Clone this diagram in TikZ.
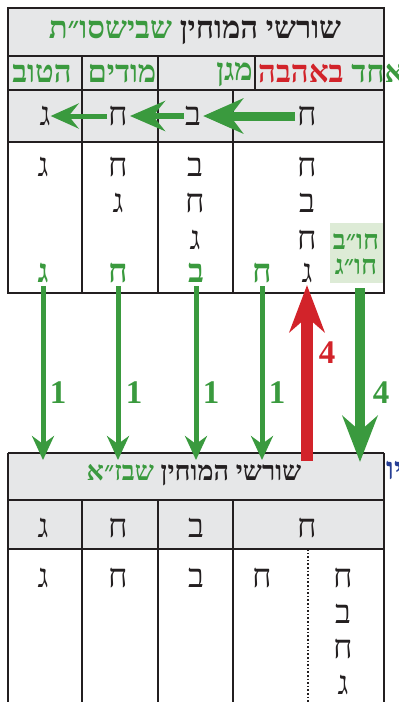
\documentclass[tikz,border=0pt]{standalone}
\usepackage{fontspec}
\setmainfont{Liberation Serif}
\newfontfamily\hebfont[Script=Hebrew]{Liberation Serif}
\TeXXeTstate=1
\usetikzlibrary{arrows.meta}

\definecolor{tgreen}{RGB}{58,154,62}
\definecolor{tred}{RGB}{210,35,42}
\definecolor{tgray}{RGB}{230,231,232}
\definecolor{tbox}{RGB}{221,235,214}
\definecolor{tline}{RGB}{35,31,32}
\definecolor{tblue}{RGB}{38,62,148}

%% one right-to-left run; colour changes stay outside of it
\newcommand{\rtltext}[1]{\beginR#1\endR}

\tikzset{
  tableline/.style={draw=tline, line width=2pt},
  letter/.style={font=\hebfont\fontsize{33}{36}\selectfont, inner sep=0pt, text=tline},
  greenletter/.style={letter, text=tgreen, font=\hebfont\bfseries\fontsize{33}{36}\selectfont},
  hubletter/.style={inner sep=0pt, text=tgreen, font=\hebfont\bfseries\fontsize{27}{30}\selectfont},
  titletext/.style={font=\hebfont\bfseries\fontsize{31}{34}\selectfont, inner sep=0pt, text=tline},
  word/.style={font=\hebfont\bfseries\fontsize{31}{34}\selectfont, inner sep=0pt},
  num/.style={font=\bfseries\fontsize{33}{38}\selectfont, inner sep=0pt},
  bigleft/.style={draw=tgreen, line width=9pt, -{Stealth[length=40pt,width=35pt,inset=13pt]}},
  midleft/.style={draw=tgreen, line width=6pt, -{Stealth[length=35pt,width=30pt,inset=12pt]}},
  smallleft/.style={draw=tgreen, line width=5pt, -{Stealth[length=28pt,width=25pt,inset=10pt]}},
  thindown/.style={draw=tgreen, line width=5pt, -{Stealth[length=24pt,width=22pt,inset=8pt]}},
  thickdown/.style={draw=tgreen, line width=10pt, -{Stealth[length=46pt,width=35pt,inset=15pt]}},
  thickup/.style={draw=tred, line width=12pt, -{Stealth[length=47pt,width=35pt,inset=15pt]}}
}

\begin{document}
\begin{tikzpicture}[x=1pt,y=-1pt]
  \useasboundingbox (0,0) rectangle (399,702);

  %% top table: fills and lines
  \fill[tgray] (8,8) rectangle (384,142);
  \fill[tbox] (330,223) rectangle (383,283);
  \draw[tableline] (8,8) rectangle (384,293);
  \draw[tableline] (8,56) -- (384,56);
  \draw[tableline] (8,90) -- (384,90);
  \draw[tableline] (8,142) -- (384,142);
  \foreach \x in {82,158,255} \draw[tableline] (\x,56) -- (\x,90);
  \foreach \x in {82,158,233} \draw[tableline] (\x,90) -- (\x,293);

  \node[titletext] (toptitle) at (195,32) {{\color{tgreen}\rtltext{שבישסו״ת}} \rtltext{שורשי המוחין}};
  \node[word, text=tgreen] (hatov) at (42,74) {\rtltext{הטוב}};
  \node[word, text=tgreen] (modim) at (122,74) {\rtltext{מודים}};
  \node[word, text=tgreen, anchor=east] (magen) at (253,74) {\rtltext{מגן}};
  \node[word, anchor=west] (ahava) at (258,74) {{\color{tred}\rtltext{באהבה}} {\color{tgreen}\rtltext{אחד}}};

  %% row of the passing letters
  \node[letter] (h3) at (307,116) {ח};
  \node[letter] (b3) at (193,116) {ב};
  \node[letter] (c3) at (118,116) {ח};
  \node[letter] (g3) at (45,116) {ג};
  \draw[bigleft] ([xshift=-2pt]h3.west) -- ([xshift=2pt]b3.east);
  \draw[midleft] ([xshift=-1pt]b3.west) -- ([xshift=2pt]c3.east);
  \draw[smallleft] ([xshift=-1pt]c3.west) -- ([xshift=0pt]g3.east);

  %% letters of each column
  \node[letter] (h41) at (307,167) {ח};
  \node[letter] (h42) at (307,203) {ב};
  \node[letter] (h43) at (307,240) {ח};
  \node[letter] (h44) at (307,273) {ג};
  \node[letter] (b41) at (195,167) {ב};
  \node[letter] (b42) at (195,203) {ח};
  \node[letter] (b43) at (195,240) {ג};
  \node[letter] (c41) at (118,167) {ח};
  \node[letter] (c42) at (118,203) {ג};
  \node[letter] (g41) at (43,167) {ג};
  \node[greenletter] (gg) at (43,273) {ג};
  \node[greenletter] (gc) at (118,273) {ח};
  \node[greenletter] (gb) at (196,273) {ב};
  \node[greenletter] (gh) at (262,273) {ח};
  \node[hubletter] (hubb) at (356,242) {\rtltext{חו״ב}};
  \node[hubletter] (hubg) at (356,267) {\rtltext{חו״ג}};

  %% bottom table
  \fill[tgray] (8,453) rectangle (384,549);
  \draw[tableline] (8,453) -- (384,453);
  \draw[tableline] (8,453) -- (8,712);
  \draw[tableline] (384,453) -- (384,712);
  \draw[tableline] (8,500) -- (384,500);
  \draw[tableline] (8,549) -- (384,549);
  \foreach \x in {82,158,233} \draw[tableline] (\x,500) -- (\x,712);
  \draw[tline, line width=1.6pt, dotted] (308,549) -- (308,712);

  \node[titletext, font=\hebfont\bfseries\fontsize{27}{30}\selectfont] (bottitle) at (194,475) {{\color{tgreen}\rtltext{שבז״א}} \rtltext{שורשי המוחין}};
  \node[word, text=tblue, anchor=west] (cut) at (386,470) {\rtltext{יו}};

  \node[letter] (bh) at (307,528) {ח};
  \node[letter] (bb) at (196,528) {ב};
  \node[letter] (bc) at (118,528) {ח};
  \node[letter] (bg) at (43,528) {ג};
  \node[letter] (lg) at (43,578) {ג};
  \node[letter] (lc) at (118,578) {ח};
  \node[letter] (lb) at (196,578) {ב};
  \node[letter] (lh) at (262,578) {ח};
  \node[letter] (r1) at (343,578) {ח};
  \node[letter] (r2) at (343,614) {ב};
  \node[letter] (r3) at (343,649) {ח};
  \node[letter] (r4) at (343,685) {ג};

  %% arrows between the tables
  \coordinate (e1) at (43,460);
  \coordinate (e2) at (118,460);
  \coordinate (e3) at (196,460);
  \coordinate (e4) at (262,460);
  \coordinate (e5) at (360,462);
  \coordinate (s5) at (360,288);
  \coordinate (s6) at (307,461);
  \draw[thindown] ([yshift=-3pt]gg.south) -- (e1);
  \draw[thindown] ([yshift=-3pt]gc.south) -- (e2);
  \draw[thindown] ([yshift=-3pt]gb.south) -- (e3);
  \draw[thindown] ([yshift=-3pt]gh.south) -- (e4);
  \draw[thickdown] (s5) -- (e5);
  \draw[thickup] (s6) -- ([yshift=-2pt]h44.south);

  \node[num, text=tgreen] (n1) at (58,393) {1};
  \node[num, text=tgreen] (n2) at (134,393) {1};
  \node[num, text=tgreen] (n3) at (211,393) {1};
  \node[num, text=tgreen] (n4) at (277,393) {1};
  \node[num, text=tred] (n5) at (327,353) {4};
  \node[num, text=tgreen] (n6) at (381,393) {4};
\end{tikzpicture}
\end{document}
